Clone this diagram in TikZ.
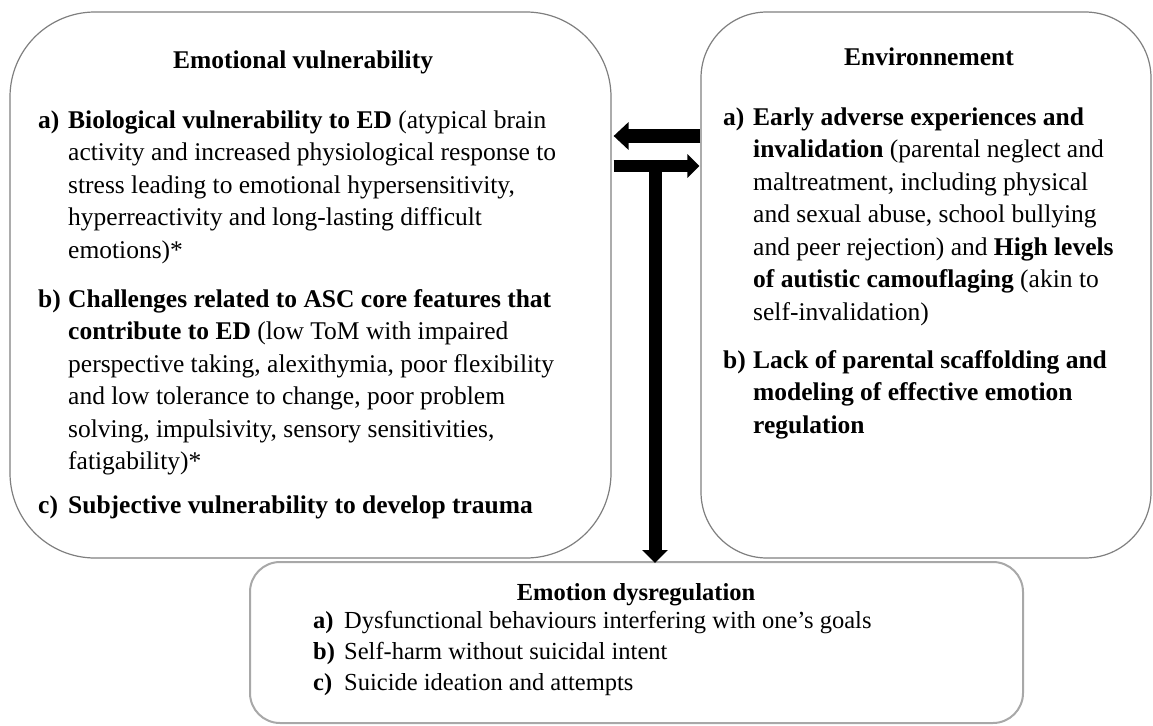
\documentclass[tikz,border=0pt]{standalone}
\usepackage{fontspec}
\setmainfont{Liberation Serif}
\usetikzlibrary{arrows.meta}
\definecolor{panelgray}{HTML}{7F7F7F}
\definecolor{softgray}{HTML}{A8A8A8}
\begin{document}
\begin{tikzpicture}[x=1pt,y=-1pt,
  panel/.style={draw=panelgray, line width=1.2pt, inner sep=0pt},
  outcome/.style={draw=softgray, line width=2pt, inner sep=0pt},
  bodytext/.style={anchor=base west, inner sep=0pt, align=flush left, text width=#1,
    font=\fontsize{25.5}{32.5}\selectfont},
  tag/.style={anchor=base west, inner sep=0pt, font=\fontsize{25.5}{32.5}\selectfont\bfseries},
  heading/.style={anchor=base, inner sep=0pt, font=\fontsize{25.5}{32.5}\selectfont\bfseries},
  smalltag/.style={anchor=base west, inner sep=0pt, font=\fontsize{24.5}{31}\selectfont\bfseries},
  smalltext/.style={anchor=base west, inner sep=0pt, font=\fontsize{24.5}{31}\selectfont},
  smallheading/.style={anchor=base, inner sep=0pt, font=\fontsize{24.5}{31}\selectfont\bfseries},
  fat/.style={draw=black, line cap=butt}
]
\useasboundingbox (0,0) rectangle (1153,725);

% the three panels
\node[panel, rounded corners=85pt, minimum width=601pt, minimum height=546pt] (emo) at (310.5,285) {};
\node[panel, rounded corners=66pt, minimum width=450pt, minimum height=546pt] (env) at (926,285) {};
\node[outcome, rounded corners=30pt, minimum width=773pt, minimum height=161pt] (dys) at (636.5,642.5) {};

% emotional vulnerability
\node[heading] (emo-title) at (303,69) {Emotional vulnerability};
\node[tag] (emo-a) at (38,128) {a)};
\node[bodytext=560pt] (emo-a-text) at (68,128) {\textbf{Biological vulnerability to ED} (atypical brain\\
activity and increased physiological response to\\
stress leading to emotional hypersensitivity,\\
hyperreactivity and long-lasting difficult\\
emotions)*};
\node[tag] (emo-b) at (38,307) {b)};
\node[bodytext=560pt] (emo-b-text) at (68,307) {\textbf{Challenges related to ASC core features that}\\
\textbf{contribute to ED} (low ToM with impaired\\
perspective taking, alexithymia, poor flexibility\\
and low tolerance to change, poor problem\\
solving, impulsivity, sensory sensitivities,\\
fatigability)*};
\node[tag] (emo-c) at (38,513) {c)};
\node[bodytext=560pt] (emo-c-text) at (68,513) {\textbf{Subjective vulnerability to develop trauma}};

% environment
\node[heading] (env-title) at (929,66) {Environnement};
\node[tag] (env-a) at (723,125) {a)};
\node[bodytext=395pt] (env-a-text) at (753,125) {\textbf{Early adverse experiences and}\\
\textbf{invalidation} (parental neglect and\\
maltreatment, including physical\\
and sexual abuse, school bullying\\
and peer rejection) and \textbf{High levels}\\
\textbf{of autistic camouflaging} (akin to\\
self-invalidation)};
\node[tag] (env-b) at (723,368) {b)};
\node[bodytext=395pt] (env-b-text) at (753,368) {\textbf{Lack of parental scaffolding and}\\
\textbf{modeling of effective emotion}\\
\textbf{regulation}};

% emotion dysregulation
\node[smallheading] (dys-title) at (636,600) {Emotion dysregulation};
\node[smalltag] (dys-a) at (313,628) {a)};
\node[smalltext] (dys-a-text) at (344,628) {Dysfunctional behaviours interfering with one’s goals};
\node[smalltag] (dys-b) at (313,659) {b)};
\node[smalltext] (dys-b-text) at (344,659) {Self-harm without suicidal intent};
\node[smalltag] (dys-c) at (313,690) {c)};
\node[smalltext] (dys-c-text) at (344,690) {Suicide ideation and attempts};

% connectors
\coordinate (back) at (0,136);
\coordinate (forth) at (0,166);
\coordinate (split) at (655,166);
\draw[fat, line width=14pt, -{Triangle[length=15pt,width=27pt]}]
  (env.west |- back) -- ([xshift=2pt]emo.east |- back);
\draw[fat, line width=12pt, -{Triangle[length=12pt,width=23pt]}]
  ([xshift=2pt]emo.east |- forth) -- ([xshift=-1pt]env.west |- forth);
\draw[fat, line width=13pt, -{Triangle[length=13pt,width=25pt]}]
  ([yshift=5pt]split) -- ([yshift=-2pt]split |- dys.north);
\end{tikzpicture}
\end{document}
